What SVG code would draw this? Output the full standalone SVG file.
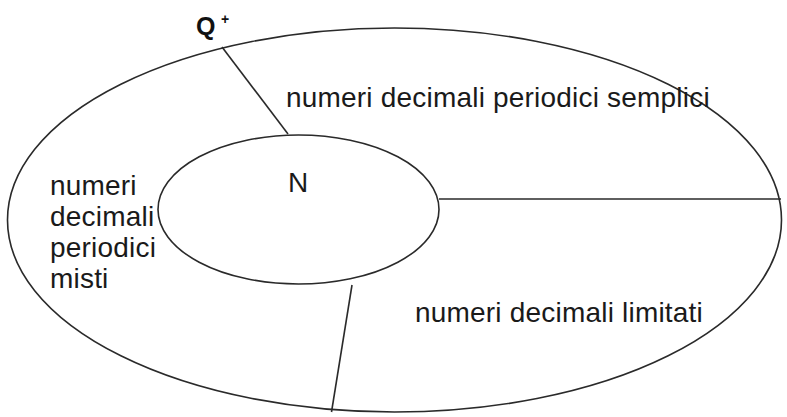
<svg xmlns="http://www.w3.org/2000/svg" width="787" height="417" viewBox="0 0 787 417">
<style>
.shape{fill:none;stroke:#2a2a2a;stroke-width:1.6}
.t{font-family:"Liberation Sans",Arial,sans-serif;font-size:28px;letter-spacing:0.2px;fill:#1a1a1a}
.q{font-family:"Liberation Sans",Arial,sans-serif;font-weight:bold;fill:#111}
</style>
<rect width="787" height="417" fill="#fff"/>
<g id="Qplus">
<ellipse class="shape" cx="394.5" cy="220" rx="387" ry="192"/>
<text class="q" x="196" y="35" font-size="25">Q</text>
<text class="q" x="221" y="24" font-size="14">+</text>
</g>
<g id="N">
<ellipse class="shape" cx="298.5" cy="209.5" rx="140.5" ry="74.5"/>
<text class="t" x="288" y="192">N</text>
</g>
<g id="connectors">
<line class="shape" x1="222" y1="47" x2="288" y2="134"/>
<line class="shape" x1="439" y1="199" x2="781" y2="199"/>
<line class="shape" x1="352" y1="285" x2="331.5" y2="412"/>
</g>
<g id="semplici">
<text class="t" x="286" y="107">numeri decimali periodici semplici</text>
</g>
<g id="limitati">
<text class="t" x="415" y="322">numeri decimali limitati</text>
</g>
<g id="misti">
<text class="t" x="50" y="195">numeri</text>
<text class="t" x="50" y="226">decimali</text>
<text class="t" x="50" y="257">periodici</text>
<text class="t" x="50" y="288">misti</text>
</g>
</svg>
